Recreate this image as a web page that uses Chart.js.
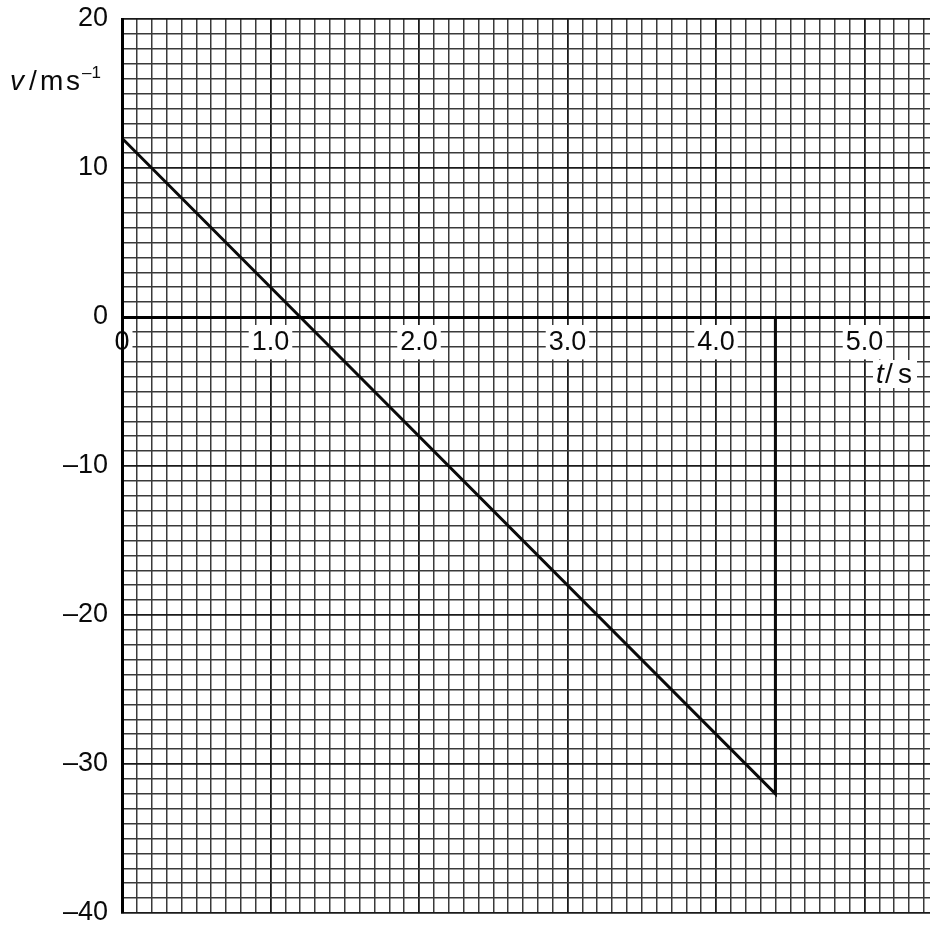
<!DOCTYPE html>
<html>
<head>
<meta charset="utf-8">
<script src="https://cdn.jsdelivr.net/npm/chart.js@4/dist/chart.umd.min.js"></script>
<style>
  html, body { margin: 0; padding: 0; background: #fff; overflow: hidden; }
  #wrap { position: relative; width: 930px; height: 927px; overflow: hidden; background: #fff; }
  canvas { position: absolute; left: 0; top: 0; }
</style>
</head>
<body>
<div id="wrap"><canvas id="c" width="1013" height="940"></canvas></div>
<script>
// ---- data ----
const timeS = [0, 4.4, 4.4];          // t / s
const velocity = [12, -32, 0];        // v / m s^-1
const xTickLabels = ['0', '1.0', '2.0', '3.0', '4.0', '5.0'];
const yTickValues = [20, 10, 0, -10, -20, -30, -40];
const yTickLabels = ['20', '10', '0', '\u201310', '\u201320', '\u201330', '\u201340'];
const xRange = [0, 6.0];
const yRange = [-40, 20];

const FONT = "'Liberation Sans', Arial, Helvetica, sans-serif";
const isWhole = (v, m) => Math.abs(v / m - Math.round(v / m)) < 1e-6;

const minorColor = '#3a3a3a';
const majorColor = '#1a1a1a';

const titles = {
  id: 'titles',
  afterDraw(chart) {
    const ctx = chart.ctx;
    ctx.save();
    ctx.fillStyle = '#0a0a0a';
    ctx.textBaseline = 'alphabetic';
    ctx.textAlign = 'left';
    // v / m s^-1
    ctx.font = 'italic 28px ' + FONT;
    ctx.fillText('v', 10, 90);
    ctx.font = '28px ' + FONT;
    ctx.fillText('/', 29, 90);
    ctx.fillText('m', 40, 90);
    ctx.fillText('s', 66, 90);
    ctx.font = '17px ' + FONT;
    ctx.fillText('\u20131', 82, 78);
    // t / s
    ctx.fillStyle = '#fff';
    ctx.fillRect(873, 360, 44, 28);
    ctx.fillStyle = '#0a0a0a';
    ctx.font = 'italic 28px ' + FONT;
    ctx.fillText('t', 876, 383);
    ctx.font = '28px ' + FONT;
    ctx.fillText('/', 885, 383);
    ctx.fillText('s', 898, 383);
    ctx.restore();
  }
};

new Chart(document.getElementById('c'), {
  type: 'line',
  data: {
    datasets: [{
      data: timeS.map((t, i) => ({ x: t, y: velocity[i] })),
      borderColor: '#0a0a0a',
      borderWidth: 3,
      pointRadius: 0,
      tension: 0,
      fill: false
    }]
  },
  options: {
    responsive: false,
    animation: false,
    devicePixelRatio: 1,
    layout: { padding: { left: 0, right: 0, top: 19, bottom: 27 } },
    plugins: { legend: { display: false }, tooltip: { enabled: false } },
    scales: {
      x: {
        type: 'linear',
        position: { y: 0 },
        min: xRange[0],
        max: xRange[1],
        afterFit: s => { s.paddingLeft = 0; s.paddingRight = 0; },
        border: { display: true, color: '#000', width: 3, z: 1 },
        grid: {
          drawTicks: false,
          color: c => isWhole(c.tick.value, 1) ? majorColor : minorColor,
          lineWidth: c => isWhole(c.tick.value, 1) ? 1.8 : 1.5
        },
        ticks: {
          stepSize: 0.1,
          autoSkip: false,
          maxRotation: 0,
          padding: 9,
          z: 1,
          color: '#0a0a0a',
          font: { family: FONT, size: 27 },
          showLabelBackdrop: true,
          backdropPadding: { left: 3, right: 3, top: 1, bottom: 1 },
          backdropColor: c => (c.tick && isWhole(c.tick.value, 1) && Math.round(c.tick.value) < xTickLabels.length) ? '#fff' : 'rgba(0,0,0,0)',
          callback: v => {
            if (!isWhole(v, 1)) return '';
            const i = Math.round(v);
            return i < xTickLabels.length ? xTickLabels[i] : '';
          }
        }
      },
      y: {
        type: 'linear',
        position: 'left',
        min: yRange[0],
        max: yRange[1],
        afterFit: s => { s.width = 122; s.paddingTop = 0; s.paddingBottom = 0; },
        border: { display: true, color: '#000', width: 3, z: 1 },
        grid: {
          drawTicks: false,
          color: c => isWhole(c.tick.value, 10) ? majorColor : minorColor,
          lineWidth: c => isWhole(c.tick.value, 10) ? 1.8 : 1.5
        },
        ticks: {
          stepSize: 1,
          autoSkip: false,
          padding: 14,
          color: '#0a0a0a',
          font: { family: FONT, size: 27 },
          callback: v => {
            const i = yTickValues.findIndex(t => Math.abs(t - v) < 1e-6);
            return i >= 0 ? yTickLabels[i] : '';
          }
        }
      }
    }
  },
  plugins: [titles]
});
</script>
</body>
</html>
